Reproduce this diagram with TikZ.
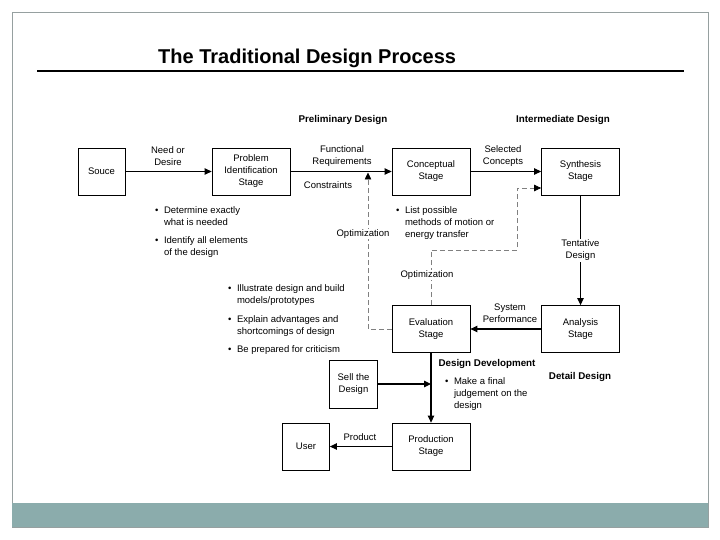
\documentclass[tikz,border=0pt]{standalone}
\usepackage{fontspec}
\setmainfont{Liberation Sans}
\usepackage{tikz}
\usetikzlibrary{arrows.meta}
\usetikzlibrary{positioning,calc}
\usepackage{xcolor}
\definecolor{barteal}{RGB}{139,172,172}
\definecolor{framegray}{RGB}{150,160,160}
\tikzset{
    stagebox/.style={
        draw,
        rectangle,
        fill=white,
        minimum width=78pt,
        minimum height=47pt,
        align=center,
        inner sep=1pt,
        line width=0.8pt
    },
    flow/.style={
        draw,
        -{Triangle[length=7pt, width=6.5pt]},
        line width=1.2pt
    },
    optline/.style={
        draw=gray,
        dash pattern=on 5pt off 3pt,
        -{Triangle[length=7pt, width=6.5pt, color=black]},
        line width=0.7pt
    },
    lbl/.style={align=center, inner sep=1pt},
    hdr/.style={font=\fontsize{9.8}{12}\selectfont\bfseries},
    notes/.style={anchor=base west, inner sep=0pt}
}
\newcommand{\bul}{\textbullet}

\begin{document}
\begin{tikzpicture}[x=1pt, y=-1pt, every node/.style={font=\fontsize{9.5}{12}\selectfont}]
    \useasboundingbox (0,0) rectangle (720,540);
    % Slide frame
    \fill[white] (0,0) rectangle (720,540);
    \draw[framegray, line width=0.8pt] (12,12) rectangle (708,527);
    \fill[barteal] (12,503) rectangle (708,527);

    % Title
    \node[anchor=base west, inner sep=0pt, font=\fontsize{20}{24}\selectfont\bfseries] (title) at (158,64) {The Traditional Design Process};
    \draw[line width=2.7pt] (37,71) -- (684,71);

    % Stages
    \node[stagebox, minimum width=47pt] (src) at (101.5,171.5) {Souce};
    \node[stagebox] (prob) at (251,171.5) {Problem\\Identification\\Stage};
    \node[stagebox] (conc) at (431,171.5) {Conceptual\\Stage};
    \node[stagebox] (synth) at (580.5,171.5) {Synthesis\\Stage};
    \node[stagebox] (eval) at (431,329) {Evaluation\\Stage};
    \node[stagebox] (ana) at (580.5,329) {Analysis\\Stage};
    \node[stagebox, minimum width=48pt, minimum height=48pt] (sell) at (353.5,384) {Sell the\\Design};
    \node[stagebox, minimum width=47pt] (user) at (306,446.5) {User};
    \node[stagebox] (prod) at (431,446.5) {Production\\Stage};

    % Main flow
    \draw[flow] (src) -- (prob);
    \draw[flow] (prob) -- (conc);
    \draw[flow] (conc) -- (synth);
    \draw[flow] (synth) -- node[lbl, fill=white] (tentlbl) {Tentative\\Design} (ana);
    \draw[flow] (ana) -- (eval);
    \draw[flow] (eval) -- (prod);
    \coordinate (join) at (431,384);
    \draw[flow] (sell) -- (join);
    \draw[flow] (prod) -- (user);

    % Optimization loops
    \coordinate (loopL) at (368,172.5);
    \draw[optline] (eval.west) -| (loopL);
    \coordinate (loopR) at (517,250);
    \draw[optline] (eval.north) |- (loopR) |- ([yshift=-16.5pt]synth.west);

    % Connector labels
    \node[lbl] (needlbl) at (168,156) {Need or\\Desire};
    \node[lbl] (funclbl) at (342,156) {Functional\\Requirements};
    \node[lbl] (conslbl) at (328,185) {Constraints};
    \node[lbl] (sellbl) at (503,156) {Selected\\Concepts};
    \node[lbl] (perflbl) at (510,313) {System\\Performance};
    \node[lbl] (prodlbl) at (360,437) {Product};
    \node[lbl, fill=white] (optlblL) at (363,234) {Optimization};
    \node[lbl, fill=white] (optlblR) at (427,275) {Optimization};

    % Phase headings
    \node[hdr] (prelim) at (343,120) {Preliminary Design};
    \node[hdr] (inter) at (563,120) {Intermediate Design};
    \node[hdr] (devlbl) at (487,364) {Design Development};
    \node[hdr] (detail) at (580,377) {Detail Design};

    % Notes
    \node[notes] (probnotes) at (155,213.5) {\begin{tabular}[t]{@{}l@{\hspace{5.5pt}}l@{}}
        \bul & Determine exactly\\ & what is needed\\[6pt]
        \bul & Identify all elements\\ & of the design
    \end{tabular}};
    \node[notes] (concnotes) at (396,213.5) {\begin{tabular}[t]{@{}l@{\hspace{5.5pt}}l@{}}
        \bul & List possible\\ & methods of motion or\\ & energy transfer
    \end{tabular}};
    \node[notes] (evalnotes) at (228,291.5) {\begin{tabular}[t]{@{}l@{\hspace{5.5pt}}l@{}}
        \bul & Illustrate design and build\\ & models/prototypes\\[7pt]
        \bul & Explain advantages and\\ & shortcomings of design\\[6pt]
        \bul & Be prepared for criticism
    \end{tabular}};
    \node[notes] (devnotes) at (445,384.5) {\begin{tabular}[t]{@{}l@{\hspace{5.5pt}}l@{}}
        \bul & Make a final\\ & judgement on the\\ & design
    \end{tabular}};
\end{tikzpicture}
\end{document}
